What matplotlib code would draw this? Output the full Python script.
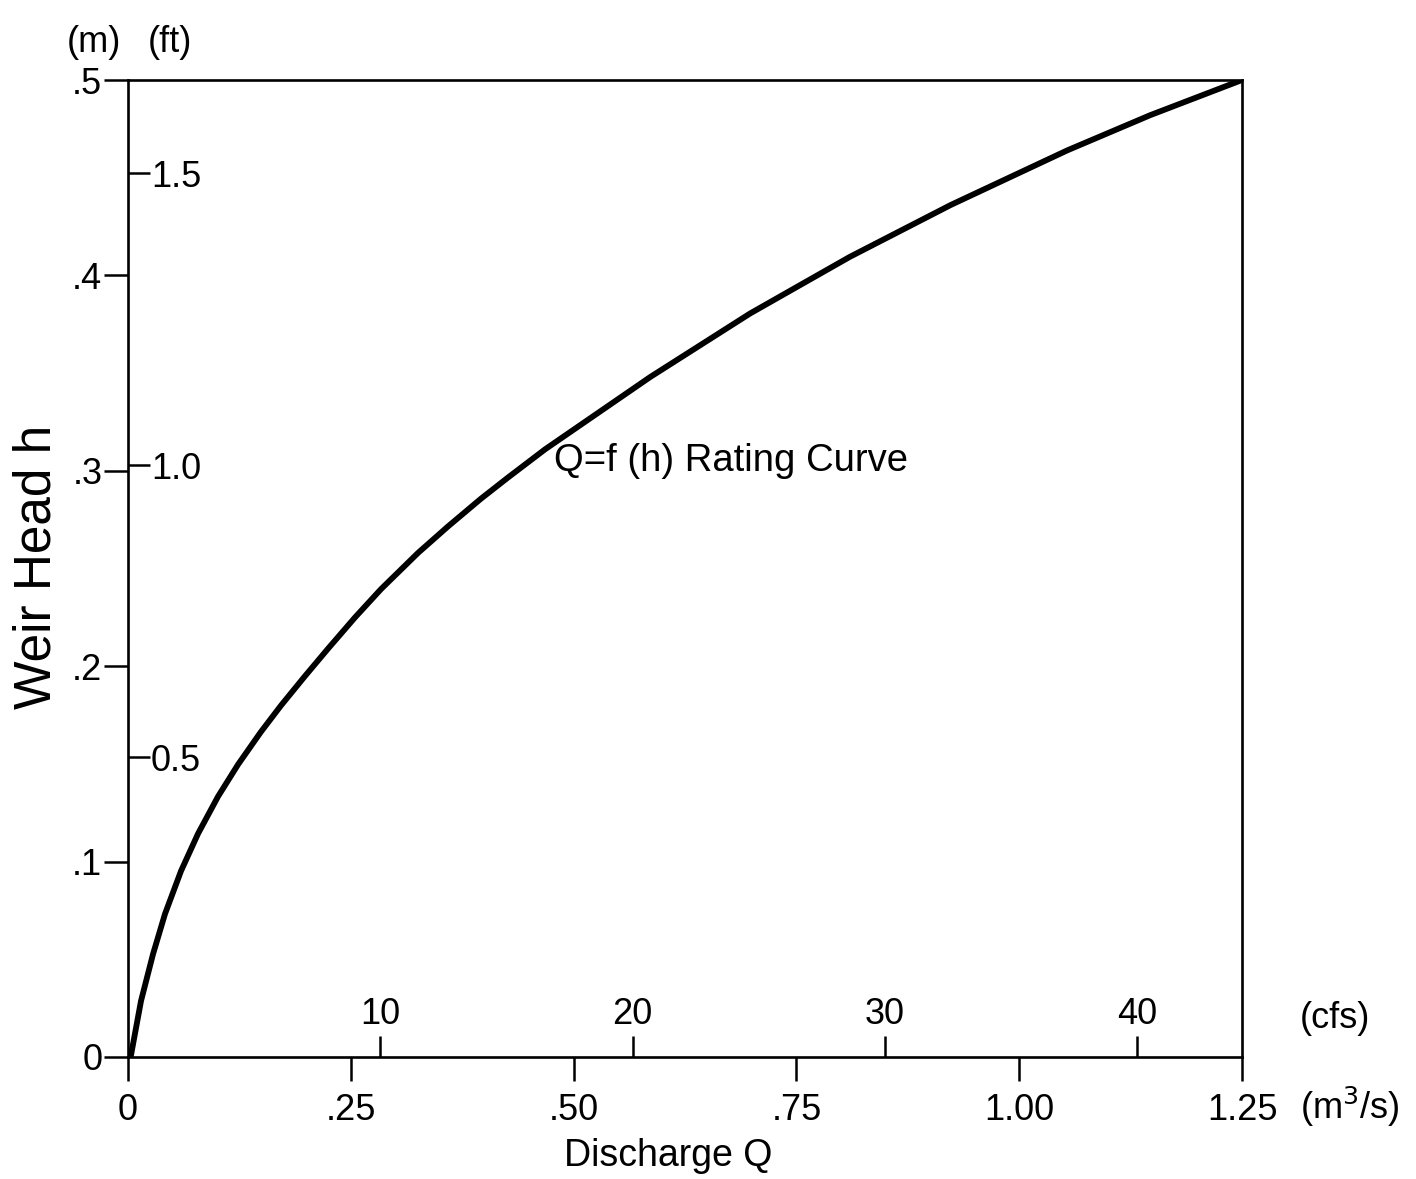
import matplotlib
matplotlib.use("Agg")
import matplotlib.pyplot as plt

plt.rcParams['font.family'] = ['Liberation Sans', 'DejaVu Sans']

# Rating curve: discharge Q (m^3/s) vs weir head h (m)
discharge_m3s = [0, 0.0034, 0.0146, 0.0281, 0.0415, 0.0595, 0.0786, 0.101,
                 0.1235, 0.149, 0.1717, 0.1987, 0.2245, 0.2548, 0.284, 0.3255,
                 0.359, 0.396, 0.4265, 0.468, 0.586, 0.698, 0.810, 0.923,
                 1.054, 1.147, 1.25]
head_m = [0, 0.001, 0.0287, 0.0527, 0.0732, 0.0952, 0.1143, 0.1333,
          0.1497, 0.1663, 0.1799, 0.1950, 0.2090, 0.2250, 0.2395, 0.258,
          0.2715, 0.2857, 0.2966, 0.311, 0.348, 0.3805, 0.4095, 0.436,
          0.464, 0.482, 0.5]

m_ticks = [0, 0.1, 0.2, 0.3, 0.4, 0.5]
m_labels = ["0", ".1", ".2", ".3", ".4", ".5"]
ft_ticks = [0.5, 1.0, 1.5]
ft_labels = ["0.5", "1.0", "1.5"]
# feet scale limits as drawn in the picture (bottom and top of the frame)
ft_limits = [-0.013, 1.66]
q_ticks = [0, 0.25, 0.50, 0.75, 1.00, 1.25]
q_labels = ["0", ".25", ".50", ".75", "1.00", "1.25"]
cfs_ticks = [10, 20, 30, 40]
cfs_labels = ["10", "20", "30", "40"]

M3S_PER_CFS = 0.0283168

W, H = 1416, 1179
fig = plt.figure(figsize=(W / 100, H / 100), dpi=100)
L, R, T, B = 128, 1242, 80, 1057
ax = fig.add_axes([L / W, 1 - B / H, (R - L) / W, (B - T) / H])

ax.plot(discharge_m3s, head_m, color="black", lw=4.2, solid_capstyle="round",
        solid_joinstyle="round")
ax.set_xlim(0, 1.25)
ax.set_ylim(0, 0.5)

for s in ax.spines.values():
    s.set_linewidth(1.9)
    s.set_color("black")

ax.set_yticks(m_ticks)
ax.set_yticklabels(m_labels)
ax.set_xticks(q_ticks)
ax.set_xticklabels(q_labels)
ax.tick_params(axis="y", direction="out", length=17, width=1.8, pad=1.5,
               labelsize=26)
ax.tick_params(axis="x", direction="out", length=17, width=1.8, pad=9,
               labelsize=26)

# feet scale on the inside of the left axis
axf = ax.twinx()
axf.set_ylim(*ft_limits)
axf.spines["right"].set_position(("axes", 0))
for k in ["left", "top", "bottom", "right"]:
    axf.spines[k].set_visible(False)
axf.set_yticks(ft_ticks)
axf.set_yticklabels(ft_labels)
axf.tick_params(axis="y", direction="out", length=16, width=1.8, pad=0.5,
                labelsize=26)

# cfs scale on the inside of the bottom axis
axc = ax.twiny()
axc.set_xlim(0, 1.25 / M3S_PER_CFS)
axc.spines["top"].set_position(("axes", 0))
for k in ["left", "top", "bottom", "right"]:
    axc.spines[k].set_visible(False)
axc.set_xticks(cfs_ticks)
axc.set_xticklabels(cfs_labels)
axc.tick_params(axis="x", direction="out", length=15, width=1.8, pad=3,
                labelsize=26)

# labels and units
fig.text(37 / W, 1 - 567 / H, "Weir Head h", rotation=90, fontsize=37,
         ha="center", va="center")
fig.text(668 / W, 1 - 1156 / H, "Discharge Q", fontsize=27, ha="center",
         va="center")
fig.text(67 / W, 1 - 42 / H, "(m)", fontsize=26, ha="left", va="center")
fig.text(148 / W, 1 - 42 / H, "(ft)", fontsize=26, ha="left", va="center")
fig.text(1300 / W, 1 - 1018 / H, "(cfs)", fontsize=26, ha="left", va="center")
fig.text(1300 / W, 1 - 1107 / H, r"(m$^3$/s)", fontsize=26, ha="left",
         va="center")
ax.text(0.478, 0.305, "Q=f (h) Rating Curve", fontsize=27.5, ha="left",
        va="center", transform=ax.transData)

fig.savefig("out.png", dpi=100, facecolor="white")
